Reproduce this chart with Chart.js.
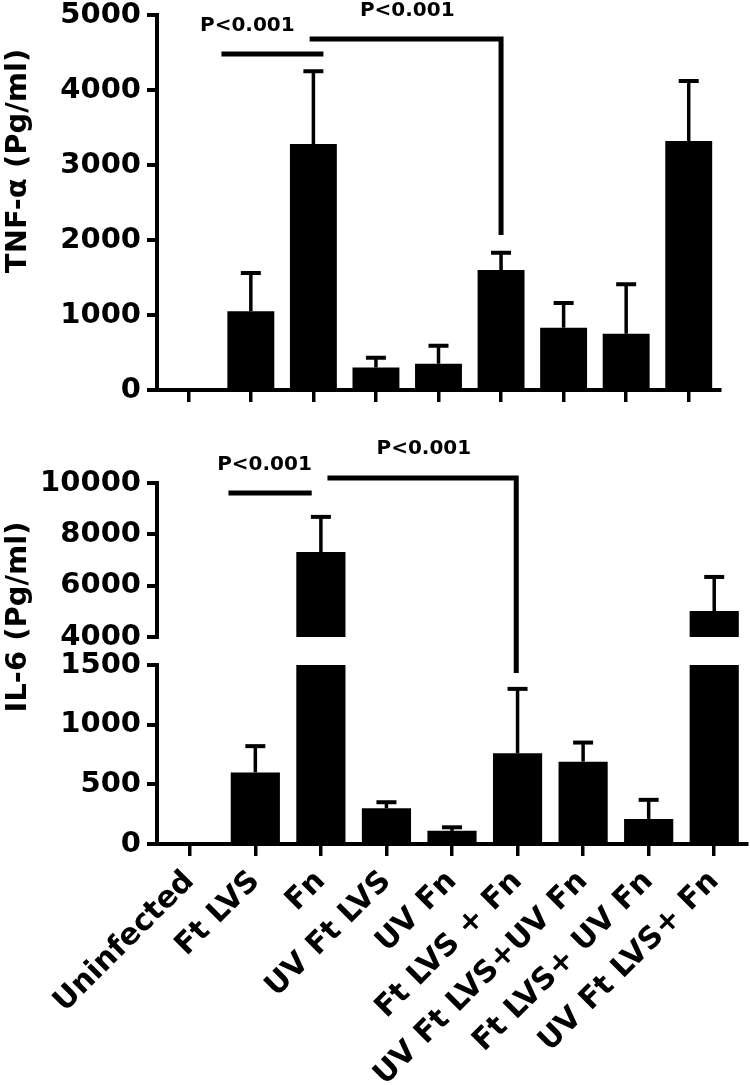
<!DOCTYPE html>
<html><head><meta charset="utf-8">
<script src="https://cdn.jsdelivr.net/npm/chart.js@4.4.1/dist/chart.umd.min.js"></script>
<style>
html,body{margin:0;padding:0;background:#fff;}
#wrap{position:relative;width:750px;height:1085px;overflow:hidden;background:#fff;}
.box{position:absolute;left:0;width:750px;}
</style></head><body>
<div id="wrap">
<div class="box" style="top:0;height:420px"><canvas id="c1" width="750" height="420"></canvas></div>
<div class="box" style="top:420px;height:665px"><canvas id="c2" width="750" height="665"></canvas></div>
</div>
<script>
// ---------- data ----------
const categories = ['Uninfected','Ft LVS','Fn','UV Ft LVS','UV Fn','Ft LVS + Fn','UV Ft LVS+UV Fn','Ft LVS+ UV Fn','UV Ft LVS+ Fn'];
const tnfMean = [0, 1050, 3280, 300, 350, 1600, 830, 750, 3320];
const tnfErr  = [0, 510, 970, 130, 240, 230, 330, 660, 800];
const il6Mean = [0, 600, 7310, 300, 110, 760, 690, 210, 5010];
const il6Err  = [0, 220, 1370, 50, 30, 540, 160, 160, 1330];
const tnfTicks = [0, 1000, 2000, 3000, 4000, 5000];
const il6LowTicks = [0, 500, 1000, 1500];
const il6HighTicks = [4000, 6000, 8000, 10000];
const tnfTitle = 'TNF-α (Pg/ml)';
const il6Title = 'IL-6 (Pg/ml)';
const pLabel = 'P<0.001';
// significance brackets: from category, to category, bar height, drop-to value (null = none)
const tnfBrackets = [[0.53, 2.16, 4480, null], [1.94, 5.0, 4680, 2067]];
const tnfPText = [[0.944, 4853], [3.5, 5053]];
const il6Brackets = [[0.59, 1.86, 9610, null], [2.10, 4.98, 10194, 1433]];
const il6PText = [[1.14, 10700], [3.57, 11324]];

// ---------- helpers ----------
const BLACK = '#000';
const tickFont = {family: 'DejaVu Sans', weight: 'bold', size: 29};
const labelFont = {family: 'DejaVu Sans', weight: 'bold', size: 30};
const pFont = 'bold 20px "DejaVu Sans"';
const titleFont = 'bold 29px "DejaVu Sans"';
const lowMax = il6LowTicks[il6LowTicks.length - 1];
const highMin = il6HighTicks[0];

function il6Scale(chart, v) {
  return v > lowMax ? chart.scales.yHigh : chart.scales.yLow;
}
function tnfScale(chart, v) { return chart.scales.y; }

const errorBarPlugin = {
  id: 'errbars',
  afterDatasetsDraw(chart, args, o) {
    const ctx = chart.ctx, xs = chart.scales.x;
    ctx.save();
    ctx.strokeStyle = BLACK;
    o.means.forEach((m, i) => {
      const e = o.errs[i];
      if (!e) return;
      const top = m + e;
      const px = xs.getPixelForValue(i);
      const y0 = o.scaleFor(chart, m).getPixelForValue(m);
      const y1 = o.scaleFor(chart, top).getPixelForValue(top);
      ctx.lineWidth = 3.5;
      ctx.beginPath(); ctx.moveTo(px, y0); ctx.lineTo(px, y1); ctx.stroke();
      ctx.lineWidth = 4;
      ctx.beginPath(); ctx.moveTo(px - 10, y1); ctx.lineTo(px + 10, y1); ctx.stroke();
    });
    ctx.restore();
  }
};

const bracketPlugin = {
  id: 'brackets',
  afterDraw(chart, args, o) {
    const ctx = chart.ctx, xs = chart.scales.x;
    ctx.save();
    ctx.strokeStyle = BLACK;
    ctx.lineWidth = 5;
    ctx.lineJoin = 'miter';
    o.brackets.forEach(([a, b, h, d]) => {
      const x1 = xs.getPixelForValue(a), x2 = xs.getPixelForValue(b);
      const y = o.scaleFor(chart, h).getPixelForValue(h);
      ctx.beginPath();
      ctx.moveTo(x1, y); ctx.lineTo(x2, y);
      if (d !== null) ctx.lineTo(x2, o.scaleFor(chart, d).getPixelForValue(d));
      ctx.stroke();
    });
    ctx.fillStyle = BLACK;
    ctx.font = pFont;
    ctx.textAlign = 'center';
    ctx.textBaseline = 'middle';
    o.texts.forEach(([a, v]) => {
      ctx.fillText(pLabel, xs.getPixelForValue(a), o.scaleFor(chart, v).getPixelForValue(v));
    });
    // y-axis title
    ctx.save();
    ctx.translate(o.titleX, o.titleY);
    ctx.rotate(-Math.PI / 2);
    ctx.font = titleFont;
    ctx.fillText(o.title, 0, 0);
    ctx.restore();
    ctx.restore();
  }
};

function noPad(s) { s.paddingTop = 0; s.paddingBottom = 0; s.paddingLeft = 0; s.paddingRight = 0; }

function xAxis(height, showLabels) {
  return {
    type: 'category',
    offset: true,
    grid: {offset: false, drawOnChartArea: false, drawTicks: true, tickLength: 12, lineWidth: 3.5, color: BLACK},
    border: {display: true, width: 4, color: BLACK},
    ticks: showLabels
      ? {font: labelFont, color: BLACK, minRotation: 45, maxRotation: 45, autoSkip: false, padding: 8}
      : {callback: () => '', padding: 0},
    afterFit: s => { s.height = height; noPad(s); }
  };
}
function yAxis(min, max, ticks, extra) {
  return Object.assign({
    type: 'linear', position: 'left', min: min, max: max,
    afterBuildTicks: s => { s.ticks = ticks.map(v => ({value: v})); },
    grid: {drawOnChartArea: false, drawTicks: true, tickLength: 10, lineWidth: 4, color: BLACK},
    border: {display: true, width: 4, color: BLACK},
    ticks: {font: tickFont, color: BLACK, padding: 6, callback: v => String(v)},
    afterFit: s => { s.width = 157; noPad(s); }
  }, extra || {});
}

// ---------- TNF-alpha ----------
new Chart(document.getElementById('c1'), {
  type: 'bar',
  data: {labels: categories, datasets: [{data: tnfMean, backgroundColor: BLACK, borderWidth: 0, barPercentage: 0.75, categoryPercentage: 1}]},
  options: {
    responsive: false, animation: false, events: [],
    layout: {padding: {top: 15, right: 30, left: 0, bottom: 0}},
    plugins: {
      legend: {display: false}, tooltip: {enabled: false},
      errbars: {means: tnfMean, errs: tnfErr, scaleFor: tnfScale},
      brackets: {brackets: tnfBrackets, texts: tnfPText, scaleFor: tnfScale, title: tnfTitle, titleX: 18, titleY: 161}
    },
    scales: {
      x: xAxis(30, false),
      y: yAxis(0, 5000, tnfTicks)
    }
  },
  plugins: [errorBarPlugin, bracketPlugin]
});

// ---------- IL-6 (broken axis) ----------
new Chart(document.getElementById('c2'), {
  type: 'bar',
  data: {labels: categories, datasets: [
    {data: il6Mean.map(v => Math.min(v, lowMax)), yAxisID: 'yLow', backgroundColor: BLACK, borderWidth: 0, barPercentage: 0.75, categoryPercentage: 1, grouped: false},
    {data: il6Mean.map(v => v > highMin ? [highMin, v] : null), yAxisID: 'yHigh', backgroundColor: BLACK, borderWidth: 0, barPercentage: 0.75, categoryPercentage: 1, grouped: false}
  ]},
  options: {
    responsive: false, animation: false, events: [],
    layout: {padding: {top: 63, right: 3, left: 0, bottom: 0}},
    plugins: {
      legend: {display: false}, tooltip: {enabled: false},
      errbars: {means: il6Mean, errs: il6Err, scaleFor: il6Scale},
      brackets: {brackets: il6Brackets, texts: il6PText, scaleFor: il6Scale, title: il6Title, titleX: 18, titleY: 197}
    },
    scales: {
      x: xAxis(241, true),
      yLow: yAxis(0, 1500, il6LowTicks, {stack: 'il6', stackWeight: 179}),
      yGap: {type: 'linear', position: 'left', stack: 'il6', stackWeight: 28, min: 0, max: 1,
             grid: {display: false}, border: {display: false}, ticks: {display: false},
             afterFit: s => { s.width = 157; noPad(s); }},
      yHigh: yAxis(4000, 10000, il6HighTicks, {stack: 'il6', stackWeight: 154})
    }
  },
  plugins: [errorBarPlugin, bracketPlugin]
});
</script>
</body></html>
